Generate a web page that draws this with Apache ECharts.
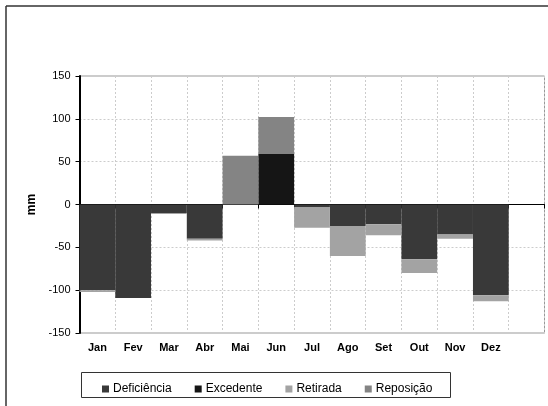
<!DOCTYPE html>
<html>
<head>
<meta charset="utf-8">
<script src="https://cdn.jsdelivr.net/npm/echarts@6/dist/echarts.min.js"></script>
<style>html,body{margin:0;padding:0;background:#fff;}#c{width:548px;height:406px;}</style>
</head>
<body>
<div id="c"></div>
<script>
const categories = ['Jan','Fev','Mar','Abr','Mai','Jun','Jul','Ago','Set','Out','Nov','Dez',''];
const deficiencia = [-100,-109,-10,-40,0,0,-3,-25,-23,-64,-35,-106];
const excedente   = [0,0,0,0,0,59,0,0,0,0,0,0];
const retirada    = [-2,0,-1,-2,0,0,-24,-35,-13,-16,-5,-7];
const reposicao   = [0,0,0,0,57,43,0,0,0,0,0,0];
const yTicks = [-150,-100,-50,0,50,100,150];

const chart = echarts.init(document.getElementById('c'), null, {renderer:'canvas'});
const font = 'Arial, "Liberation Sans", sans-serif';
function bar(name, data, color){
  return {name:name, type:'bar', stack:'bal', data:data, barWidth:'100%',
    itemStyle:{color:color}, xAxisIndex:0, yAxisIndex:0};
}
chart.setOption({
  animation:false,
  backgroundColor:'#fff',
  grid:{left:79.5, right:3.5, top:76, height:257, show:true, borderColor:'#999', borderWidth:1},
  xAxis:[
    {type:'category', data:categories, position:'bottom',
     axisLine:{show:false, onZero:false}, axisTick:{show:false},
     axisLabel:{interval:0, fontFamily:font, fontSize:11, fontWeight:'bold', color:'#000', margin:9},
     splitLine:{show:true, interval:0, lineStyle:{color:'#ccc', type:[2,2]}}},
    {type:'category', data:categories, position:'top',
     axisLine:{show:true, onZero:true, lineStyle:{color:'#000', width:1}},
     axisTick:{show:true, inside:true, length:4, interval:0, lineStyle:{color:'#000'}},
     axisLabel:{show:false}, splitLine:{show:false}}
  ],
  yAxis:{type:'value', min:yTicks[0], max:yTicks[yTicks.length-1], interval:50,
    name:'mm', nameLocation:'middle', nameGap:37, nameRotate:90,
    nameTextStyle:{fontFamily:font, fontSize:12, fontWeight:'bold', color:'#000'},
    axisLine:{show:true, lineStyle:{color:'#000', width:2}},
    axisTick:{show:true, length:4, lineStyle:{color:'#000', width:1}},
    axisLabel:{fontFamily:font, fontSize:11, color:'#000', margin:9},
    splitLine:{show:true, lineStyle:{color:'#ccc', type:[2,2]}}},
  legend:{left:97, top:378, itemWidth:7, itemHeight:7, itemGap:23, icon:'rect',
    textStyle:{fontFamily:font, fontSize:12, color:'#000', padding:[0,0,0,-1]},
    data:['Deficiência','Excedente','Retirada','Reposição']},
  graphic:[
    {type:'rect', shape:{x:81.5, y:372.5, width:369, height:25}, style:{fill:'none', stroke:'#333', lineWidth:1}, z:0},
    {type:'line', shape:{x1:6, y1:6, x2:548, y2:6}, style:{stroke:'#333', lineWidth:1.5}},
    {type:'line', shape:{x1:6, y1:6, x2:6, y2:406}, style:{stroke:'#333', lineWidth:1.5}}
  ],
  series:[
    bar('Deficiência', deficiencia, '#393939'),
    bar('Excedente', excedente, '#151515'),
    bar('Retirada', retirada, '#a3a3a3'),
    bar('Reposição', reposicao, '#848484')
  ]
});
</script>
</body>
</html>
